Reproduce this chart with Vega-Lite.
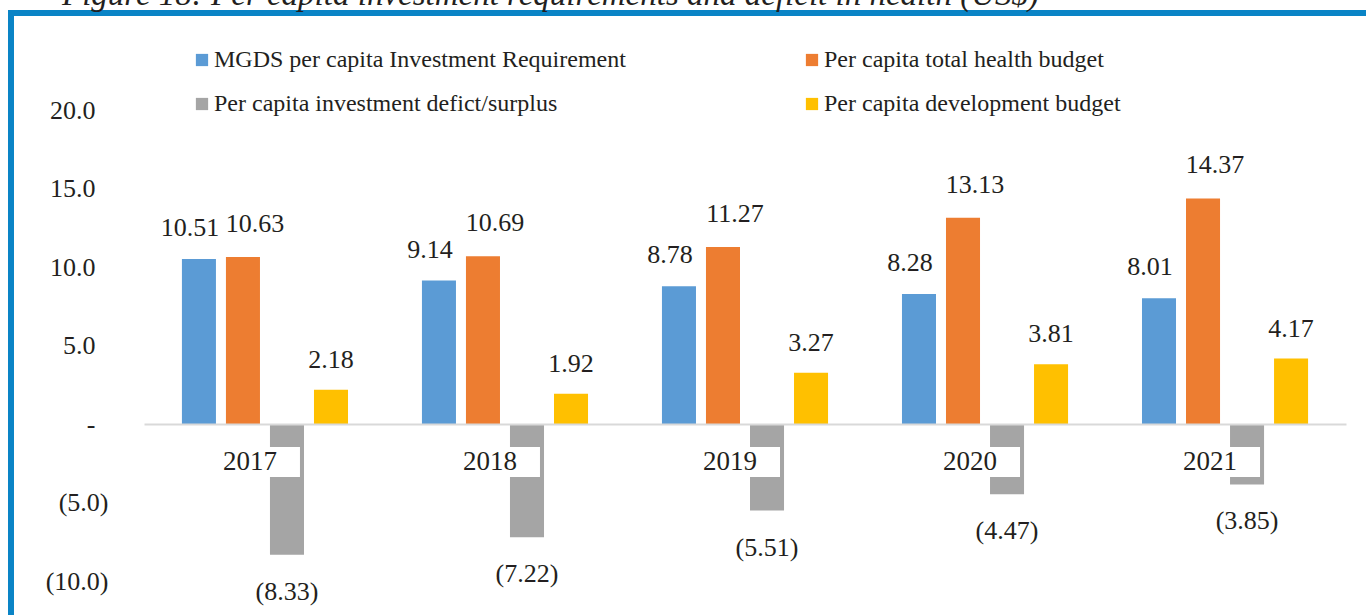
{
  "$schema": "https://vega.github.io/schema/vega-lite/v6.json",
  "autosize": {"type": "none"},
  "padding": {"left": 11, "top": 13, "right": -10, "bottom": -10},
  "width": 1365,
  "height": 612,
  "background": "white",
  "title": {
    "text": "Figure 18: Per capita investment requirements and deficit in health (US$)",
    "anchor": "start",
    "frame": "group",
    "font": "Liberation Serif",
    "fontStyle": "italic",
    "fontWeight": "normal",
    "fontSize": 33,
    "color": "#231f20",
    "baseline": "alphabetic",
    "offset": 6,
    "dy": 31,
    "dx": 51
  },
  "config": {
    "view": {"stroke": "#0a84c6", "strokeWidth": 6},
    "font": "Liberation Serif"
  },
  "datasets": {
    "bars": [
      {"year": "2017", "series": "MGDS per capita Investment Requirement", "value": 10.51},
      {"year": "2017", "series": "Per capita total health budget", "value": 10.63},
      {"year": "2017", "series": "Per capita investment defict/surplus", "value": -8.33},
      {"year": "2017", "series": "Per capita development budget", "value": 2.18},
      {"year": "2018", "series": "MGDS per capita Investment Requirement", "value": 9.14},
      {"year": "2018", "series": "Per capita total health budget", "value": 10.69},
      {"year": "2018", "series": "Per capita investment defict/surplus", "value": -7.22},
      {"year": "2018", "series": "Per capita development budget", "value": 1.92},
      {"year": "2019", "series": "MGDS per capita Investment Requirement", "value": 8.78},
      {"year": "2019", "series": "Per capita total health budget", "value": 11.27},
      {"year": "2019", "series": "Per capita investment defict/surplus", "value": -5.51},
      {"year": "2019", "series": "Per capita development budget", "value": 3.27},
      {"year": "2020", "series": "MGDS per capita Investment Requirement", "value": 8.28},
      {"year": "2020", "series": "Per capita total health budget", "value": 13.13},
      {"year": "2020", "series": "Per capita investment defict/surplus", "value": -4.47},
      {"year": "2020", "series": "Per capita development budget", "value": 3.81},
      {"year": "2021", "series": "MGDS per capita Investment Requirement", "value": 8.01},
      {"year": "2021", "series": "Per capita total health budget", "value": 14.37},
      {"year": "2021", "series": "Per capita investment defict/surplus", "value": -3.85},
      {"year": "2021", "series": "Per capita development budget", "value": 4.17}
    ],
    "years": [
      {"year": "2017"}, {"year": "2018"}, {"year": "2019"}, {"year": "2020"}, {"year": "2021"}
    ]
  },
  "encoding": {
    "x": {
      "field": "year",
      "type": "nominal",
      "sort": ["2017", "2018", "2019", "2020", "2021"],
      "scale": {"range": [133, 1335], "paddingInner": 0.308, "paddingOuter": 0.158},
      "axis": {
        "orient": "bottom",
        "offset": -201,
        "labels": false,
        "ticks": false,
        "grid": false,
        "title": null,
        "domain": true,
        "domainColor": "#d9d9d9",
        "domainWidth": 2,
        "zindex": 1
      }
    }
  },
  "layer": [
    {
      "data": {"name": "bars"},
      "mark": {"type": "bar"},
      "encoding": {
        "xOffset": {
          "field": "series",
          "type": "nominal",
          "sort": ["MGDS per capita Investment Requirement", "Per capita total health budget", "Per capita investment defict/surplus", "Per capita development budget"],
          "scale": {"paddingInner": 0.227, "paddingOuter": 0}
        },
        "y": {
          "field": "value",
          "type": "quantitative",
          "scale": {"domain": [-10, 20], "range": [568, 97], "nice": false},
          "axis": {
            "orient": "left",
            "offset": -100,
            "values": [-10, -5, 0, 5, 10, 15, 20],
            "format": "(.1f",
            "labelExpr": "datum.value == 0 ? '-' : datum.label",
            "labelPadding": {"condition": {"test": "datum.value < 0", "value": 3}, "value": 16},
            "labelFontSize": 26,
            "labelFont": "Liberation Serif",
            "labelColor": "#231f20",
            "ticks": false,
            "domain": false,
            "grid": false,
            "title": null
          }
        },
        "color": {
          "field": "series",
          "type": "nominal",
          "sort": ["MGDS per capita Investment Requirement", "Per capita total health budget", "Per capita investment defict/surplus", "Per capita development budget"],
          "scale": {"range": ["#5b9bd5", "#ed7d31", "#a5a5a5", "#ffc000"]},
          "legend": {
            "orient": "none",
            "direction": "horizontal",
            "legendX": 179,
            "legendY": 35,
            "columns": 2,
            "columnPadding": 174,
            "rowPadding": 20,
            "padding": 0,
            "title": null,
            "labelFont": "Liberation Serif",
            "labelFontSize": 24,
            "labelColor": "#231f20",
            "labelLimit": 0,
            "labelOffset": 0,
            "symbolType": "square",
            "symbolSize": 150,
            "symbolStrokeWidth": 0
          }
        }
      }
    },
    {
      "data": {"name": "years"},
      "mark": {"type": "bar", "width": 70, "color": "white"},
      "encoding": {
        "y": {"datum": -1.46},
        "y2": {"datum": -3.38}
      }
    },
    {
      "data": {"name": "years"},
      "mark": {"type": "text", "baseline": "middle", "dx": -15, "fontSize": 27, "font": "Liberation Serif", "color": "#231f20"},
      "encoding": {
        "y": {"datum": -2.42},
        "text": {"field": "year"}
      }
    },
    {
      "data": {"name": "bars"},
      "transform": [{"filter": "datum.series == 'MGDS per capita Investment Requirement'"}],
      "mark": {"type": "text", "baseline": "middle", "dy": -31, "dx": -9, "fontSize": 26, "font": "Liberation Serif", "color": "#231f20"},
      "encoding": {
        "xOffset": {
          "field": "series",
          "type": "nominal",
          "sort": ["MGDS per capita Investment Requirement", "Per capita total health budget", "Per capita investment defict/surplus", "Per capita development budget"]
        },
        "y": {"field": "value", "type": "quantitative"},
        "text": {"field": "value", "type": "quantitative", "format": "(.2f"}
      }
    },
    {
      "data": {"name": "bars"},
      "transform": [{"filter": "datum.series == 'Per capita total health budget'"}],
      "mark": {"type": "text", "baseline": "middle", "dy": -33, "dx": 12, "fontSize": 26, "font": "Liberation Serif", "color": "#231f20"},
      "encoding": {
        "xOffset": {
          "field": "series",
          "type": "nominal",
          "sort": ["MGDS per capita Investment Requirement", "Per capita total health budget", "Per capita investment defict/surplus", "Per capita development budget"]
        },
        "y": {"field": "value", "type": "quantitative"},
        "text": {"field": "value", "type": "quantitative", "format": "(.2f"}
      }
    },
    {
      "data": {"name": "bars"},
      "transform": [{"filter": "datum.series == 'Per capita development budget'"}],
      "mark": {"type": "text", "baseline": "middle", "dy": -30, "fontSize": 26, "font": "Liberation Serif", "color": "#231f20"},
      "encoding": {
        "xOffset": {
          "field": "series",
          "type": "nominal",
          "sort": ["MGDS per capita Investment Requirement", "Per capita total health budget", "Per capita investment defict/surplus", "Per capita development budget"]
        },
        "y": {"field": "value", "type": "quantitative"},
        "text": {"field": "value", "type": "quantitative", "format": "(.2f"}
      }
    },
    {
      "data": {"name": "bars"},
      "transform": [{"filter": "datum.value < 0"}],
      "mark": {"type": "text", "baseline": "middle", "dy": 37, "fontSize": 26, "font": "Liberation Serif", "color": "#231f20"},
      "encoding": {
        "xOffset": {
          "field": "series",
          "type": "nominal",
          "sort": ["MGDS per capita Investment Requirement", "Per capita total health budget", "Per capita investment defict/surplus", "Per capita development budget"]
        },
        "y": {"field": "value", "type": "quantitative"},
        "text": {"field": "value", "type": "quantitative", "format": "(.2f"}
      }
    }
  ]
}
